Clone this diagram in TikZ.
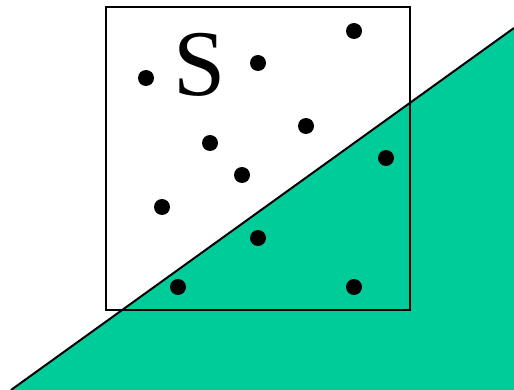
\documentclass[tikz,border=0pt]{standalone}
\usepackage{fontspec}
\setmainfont{Liberation Serif}
\definecolor{sea}{HTML}{00CC99}
\begin{document}
\begin{tikzpicture}[x=1pt,y=-1pt,
  dot/.style={circle,fill=black,inner sep=0pt,minimum size=16pt}]
\useasboundingbox (0,0) rectangle (514,390);
\fill[sea] (11,390) -- (514,28) -- (514,390) -- cycle;
\coordinate (lA) at (11,390);
\coordinate (lB) at (514,28);
\draw[line width=2pt] (lA) -- (lB);
\draw[line width=2pt] (106,7) rectangle (410,310);
\node[font=\fontsize{94}{94}\selectfont,inner sep=0pt,anchor=base] (S) at (200,96) {S};
\foreach \n/\x/\y in {d1/146/78,d2/258/63,d3/354/31,d4/210/143,d5/306/126,d6/242/175,d7/386/158,d8/162/207,d9/258/238,d10/178/287,d11/354/287}
  \node[dot] (\n) at (\x,\y) {};
\end{tikzpicture}
\end{document}
